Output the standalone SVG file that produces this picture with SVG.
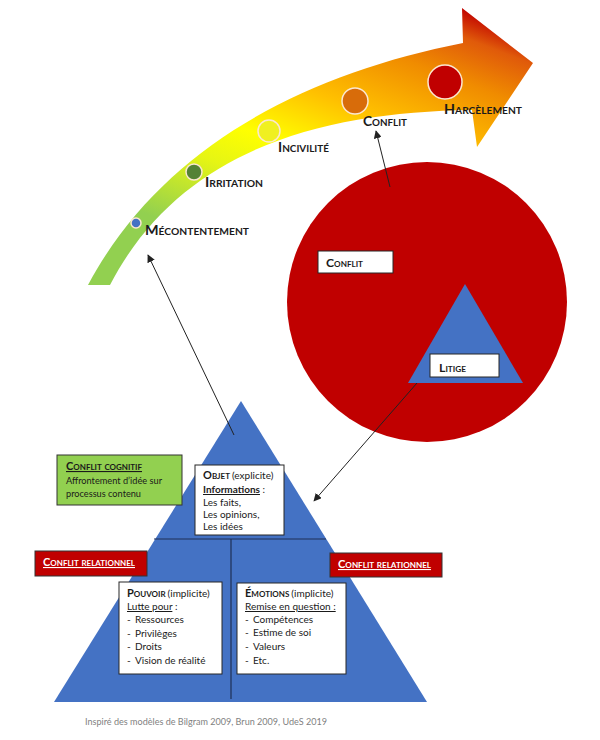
<svg xmlns="http://www.w3.org/2000/svg" width="600" height="740" viewBox="0 0 600 740">
<style>
.sc{font-family:Lato,"Open Sans","Liberation Sans",sans-serif;font-weight:bold;font-variant:small-caps;fill:#1a1a1a}
.b{font-family:Lato,"Open Sans","Liberation Sans",sans-serif;font-size:10px;fill:#1a1a1a}
.box{fill:#fff;stroke:#262626;stroke-width:1}
.red{fill:#C00000;stroke:#333;stroke-width:1}
.wt{fill:#fff;text-decoration:underline}
.ln{stroke:#222;stroke-width:1;fill:none}
.div{stroke:#1F2F55;stroke-width:1.2}
.dot{stroke:#fbe7d0;stroke-width:1.5}
</style>
<defs>
<linearGradient id="g" gradientUnits="userSpaceOnUse" x1="150" y1="260" x2="275" y2="-65">
<stop offset="0" stop-color="#92D050"/>
<stop offset="0.12" stop-color="#92D050"/>
<stop offset="0.33" stop-color="#E6F514"/>
<stop offset="0.45" stop-color="#FFFF00"/>
<stop offset="0.62" stop-color="#FFC000"/>
<stop offset="0.8" stop-color="#F08C00"/>
<stop offset="0.92" stop-color="#E05A0A"/>
<stop offset="1" stop-color="#C00000"/>
</linearGradient>
<marker id="ah" viewBox="0 0 10 10" refX="9" refY="5" markerWidth="8" markerHeight="8" orient="auto-start-reverse" markerUnits="userSpaceOnUse">
<path d="M0,0 L10,5 L0,10 z" fill="#222"/>
</marker>
</defs>

<g id="progression-arrow">
<path d="M88,285 C160,150 300,75 463,43 L462,8 L533,63 L477,147 L472,110 C320,112 180,150 110,285 Z" fill="url(#g)"/>
<circle class="dot" cx="136" cy="223" r="5" fill="#4472C4"/>
<circle class="dot" cx="194" cy="172" r="8" fill="#548235"/>
<circle class="dot" cx="269" cy="131" r="11" fill="#F0F020"/>
<circle class="dot" cx="355" cy="101" r="13" fill="#D86C0A"/>
<circle class="dot" cx="445" cy="82" r="17" fill="#C00000"/>
<text class="sc" x="145" y="235" font-size="14" textLength="104" lengthAdjust="spacingAndGlyphs">Mécontentement</text>
<text class="sc" x="205" y="187" font-size="14" textLength="58" lengthAdjust="spacingAndGlyphs">Irritation</text>
<text class="sc" x="278" y="152" font-size="14" textLength="51" lengthAdjust="spacingAndGlyphs">Incivilité</text>
<text class="sc" x="363" y="126" font-size="14" textLength="44" lengthAdjust="spacingAndGlyphs">Conflit</text>
<text class="sc" x="444" y="114" font-size="14" textLength="78" lengthAdjust="spacingAndGlyphs">Harcèlement</text>
</g>

<g id="conflit-circle">
<circle cx="427" cy="302" r="140" fill="#C00000"/>
<rect class="box" x="318" y="251" width="75" height="22"/>
<text class="sc" x="326" y="267" font-size="12" textLength="37" lengthAdjust="spacingAndGlyphs">Conflit</text>
</g>

<g id="litige-triangle">
<polygon points="465,284 408,383 523,383" fill="#4472C4"/>
<rect class="box" x="430" y="354" width="69" height="23"/>
<text class="sc" x="439" y="372" font-size="12" textLength="27" lengthAdjust="spacingAndGlyphs">Litige</text>
</g>

<g id="main-triangle">
<polygon points="241,401 54,702 427,702" fill="#4472C4"/>
<line class="div" x1="154" y1="539" x2="326" y2="539"/>
<line class="div" x1="231" y1="539" x2="231" y2="699"/>
</g>

<g id="conflit-cognitif">
<rect x="57" y="455" width="125" height="50" fill="#92D050" stroke="#333" stroke-width="1"/>
<text class="sc" x="66" y="470" font-size="11" text-decoration="underline" textLength="76" lengthAdjust="spacingAndGlyphs">Conflit cognitif</text>
<text class="b" x="66" y="484" textLength="96" lengthAdjust="spacingAndGlyphs">Affrontement d’idée sur</text>
<text class="b" x="66" y="497" textLength="75" lengthAdjust="spacingAndGlyphs">processus contenu</text>
</g>

<g id="objet">
<rect class="box" x="195" y="465" width="89" height="70"/>
<text x="203" y="479"><tspan class="sc" font-size="11">Objet</tspan><tspan class="b" dx="2">(explicite)</tspan></text>
<text class="b" x="203" y="493"><tspan font-weight="bold" text-decoration="underline">Informations</tspan> :</text>
<text class="b" x="203" y="506">Les faits,</text>
<text class="b" x="203" y="518">Les opinions,</text>
<text class="b" x="203" y="530">Les idées</text>
</g>

<g id="conflit-relationnel-gauche">
<rect class="red" x="35" y="551" width="112" height="25"/>
<text class="sc wt" x="43" y="566" font-size="11" textLength="92" lengthAdjust="spacingAndGlyphs">Conflit relationnel</text>
</g>

<g id="conflit-relationnel-droite">
<rect class="red" x="330" y="553" width="112" height="24"/>
<text class="sc wt" x="338" y="568" font-size="11" textLength="93" lengthAdjust="spacingAndGlyphs">Conflit relationnel</text>
</g>

<g id="pouvoir">
<rect class="box" x="119" y="582" width="103" height="92"/>
<text x="127" y="597"><tspan class="sc" font-size="11">Pouvoir</tspan><tspan class="b" dx="2">(implicite)</tspan></text>
<text class="b" x="127" y="610"><tspan text-decoration="underline">Lutte pour</tspan> :</text>
<text class="b" x="127" y="623">-</text><text class="b" x="135" y="623">Ressources</text>
<text class="b" x="127" y="637">-</text><text class="b" x="135" y="637">Privilèges</text>
<text class="b" x="127" y="650">-</text><text class="b" x="135" y="650">Droits</text>
<text class="b" x="127" y="664">-</text><text class="b" x="135" y="664">Vision de réalité</text>
</g>

<g id="emotions">
<rect class="box" x="237" y="583" width="109" height="91"/>
<text x="245" y="597"><tspan class="sc" font-size="11">Émotions</tspan><tspan class="b" dx="2">(implicite)</tspan></text>
<text class="b" x="245" y="610" text-decoration="underline">Remise en question :</text>
<text class="b" x="245" y="623">-</text><text class="b" x="253" y="623">Compétences</text>
<text class="b" x="245" y="636">-</text><text class="b" x="253" y="636">Estime de soi</text>
<text class="b" x="245" y="650">-</text><text class="b" x="253" y="650">Valeurs</text>
<text class="b" x="245" y="664">-</text><text class="b" x="253" y="664">Etc.</text>
</g>

<g id="connectors">
<line class="ln" x1="390" y1="187" x2="376" y2="131" marker-end="url(#ah)"/>
<line class="ln" x1="417" y1="383" x2="314" y2="501" marker-end="url(#ah)"/>
<line class="ln" x1="234" y1="435" x2="148" y2="255" marker-end="url(#ah)"/>
</g>

<text x="85" y="725" font-family="Lato,'Open Sans',sans-serif" font-size="9.5" fill="#7F7F7F" textLength="242" lengthAdjust="spacingAndGlyphs">Inspiré des modèles de Bilgram 2009, Brun 2009, UdeS 2019</text>
</svg>
